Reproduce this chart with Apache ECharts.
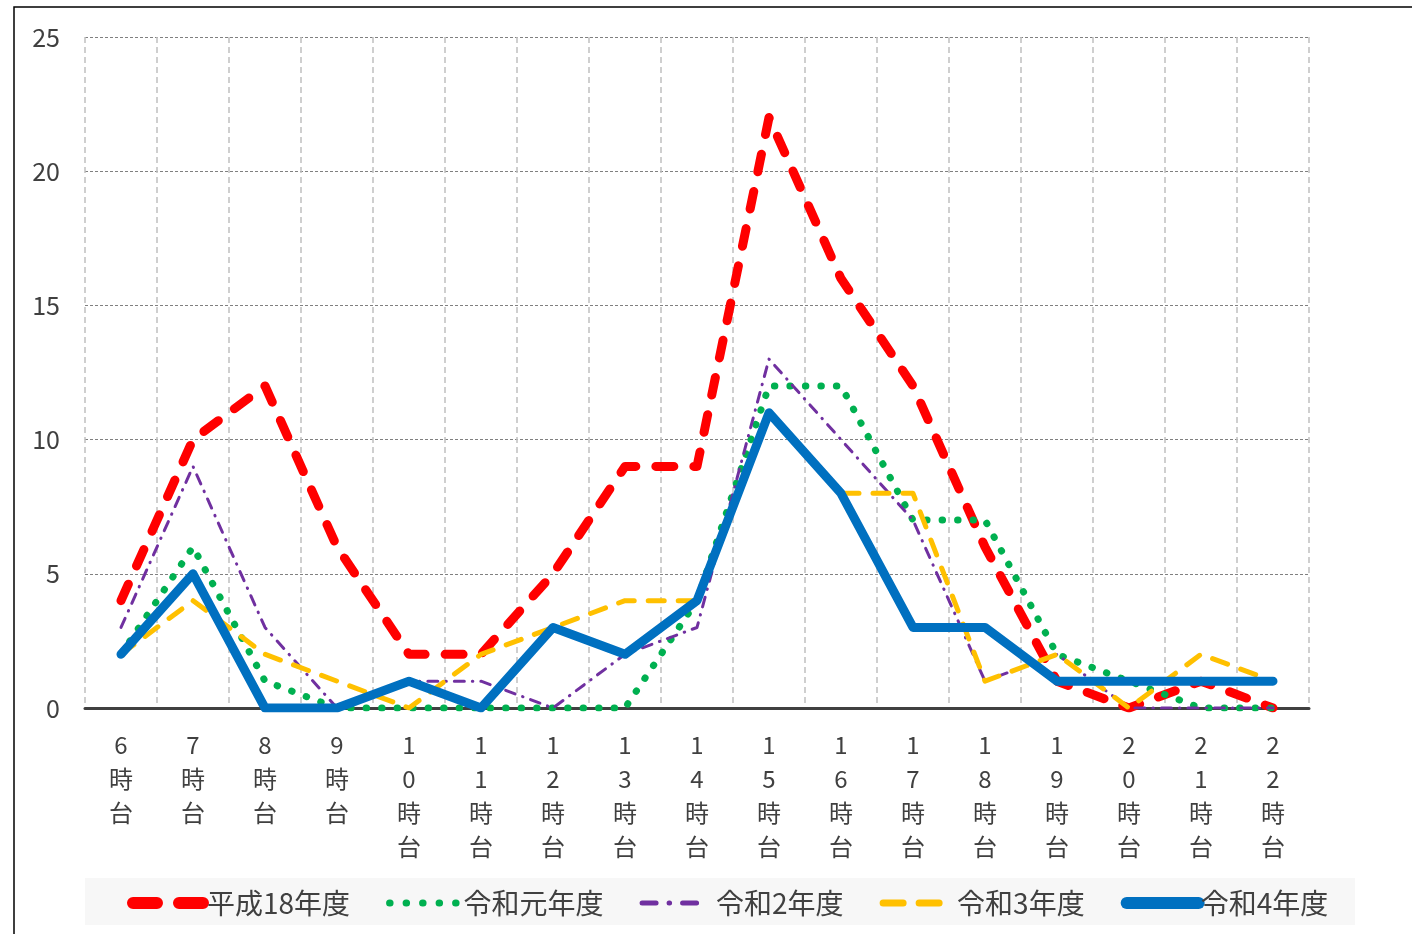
<!DOCTYPE html>
<html><head><meta charset="utf-8">
<script src="https://cdn.jsdelivr.net/npm/echarts@6/dist/echarts.min.js"></script>
<style>html,body{margin:0;padding:0;background:#fff}#c{width:1412px;height:934px}</style>
</head><body><div id="c"></div>
<script>
const categories = ['6時台','7時台','8時台','9時台','10時台','11時台','12時台','13時台','14時台','15時台','16時台','17時台','18時台','19時台','20時台','21時台','22時台'];
const seriesNames = ['平成18年度','令和元年度','令和2年度','令和3年度','令和4年度'];
const h18 = [4,10,12,6,2,2,5,9,9,22,16,12,6,1,0,1,0];
const r1  = [2,6,1,0,0,0,0,0,4,12,12,7,7,2,1,0,0];
const r2  = [3,9,3,0,1,1,0,2,3,13,10,7,1,2,0,0,0];
const r3  = [2,4,2,1,0,2,3,4,4,11,8,8,1,2,0,2,1];
const r4  = [2,5,0,0,1,0,3,2,4,11,8,3,3,1,1,1,1];
const yTicks = [0,5,10,15,20,25];

const FONT = '"Noto Sans CJK JP","Noto Sans",sans-serif';
const chart = echarts.init(document.getElementById('c'), null, {renderer:'canvas'});
function mk(name, data, color, width, dash, z){
  return {name, type:'line', data, showSymbol:false, symbol:'none', z,
    lineStyle:{color, width, type:dash, cap:'round', join:'round'},
    itemStyle:{color}, emphasis:{disabled:true}};
}
const legendStyles = [
  {width:12, type:[24,22]},
  {width:7, type:[0.5,16]},
  {width:5, type:[14,13,0.5,13,14,60]},
  {width:7, type:[20,16]},
  {width:12, type:'solid'}
];
chart.setOption({
  animation:false,
  backgroundColor:'#fff',
  graphic:[
    {type:'rect', shape:{x:14,y:7,width:1500,height:1000}, style:{fill:'none', stroke:'#000', lineWidth:1.5}, z:-10},
    {type:'rect', shape:{x:85,y:878,width:1270,height:47}, style:{fill:'#f7f7f7'}, z:-9}
  ],
  grid:{left:85, right:103, top:37, bottom:226},
  xAxis:{type:'category', data:categories, boundaryGap:true,
    axisLine:{lineStyle:{color:'#404040', width:3}},
    axisTick:{show:false},
    axisLabel:{interval:0, margin:20, color:'#404040', fontSize:24, fontFamily:FONT, lineHeight:34,
      formatter:v=>v.split('').join('\n')},
    splitLine:{show:true, interval:0, lineStyle:{color:'#c0c0c0', width:1.5, type:[6,4]}}
  },
  yAxis:{type:'value', min:0, max:25, interval:5,
    axisLine:{show:false}, axisTick:{show:false},
    axisLabel:{margin:25, color:'#404040', fontSize:25, fontFamily:FONT,
      formatter:v=>yTicks.includes(v)?String(v):''},
    splitLine:{lineStyle:{color:'#808080', width:1, type:[3,2]}}
  },
  legend:{left:122, top:884, itemGap:36, itemWidth:72, itemHeight:16,
    itemStyle:{opacity:0},
    textStyle:{fontSize:28, color:'#404040', fontFamily:FONT, padding:[0,0,0,-3]},
    data:seriesNames.map((n,i)=>({name:n, lineStyle:Object.assign({cap:'round'}, legendStyles[i])}))},
  series:[
    mk(seriesNames[0], h18, '#FF0000', 9, [18,20], 1),
    mk(seriesNames[1], r1, '#00B050', 7, [0.5,15], 2),
    mk(seriesNames[2], r2, '#7030A0', 3, [10,8,0.5,8], 3),
    mk(seriesNames[3], r3, '#FFC000', 5, [16,14], 4),
    mk(seriesNames[4], r4, '#0070C0', 9, 'solid', 5)
  ]
});
</script></body></html>
